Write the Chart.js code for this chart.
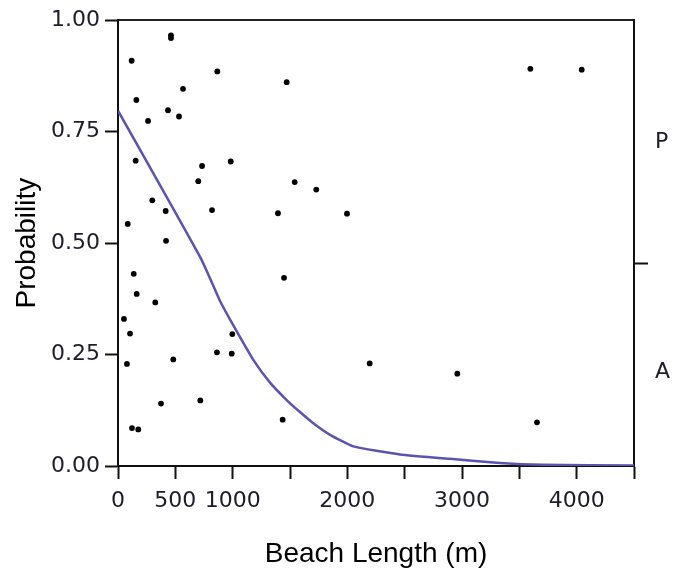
<!DOCTYPE html>
<html>
<head>
<meta charset="utf-8">
<script src="https://cdn.jsdelivr.net/npm/chart.js@4.4.0/dist/chart.umd.min.js"></script>
<style>
  html, body { margin: 0; padding: 0; background: #fff; }
</style>
</head>
<body>
<canvas id="myChart" width="684" height="573"></canvas>
<script>
// observed beaches: length (m) and probability value
const beachLength = [462, 462, 119, 866, 567, 160, 436, 532, 262, 154, 733, 983, 700, 299, 416, 820, 85, 419,
  137, 163, 325, 52, 105, 78, 482, 863, 992, 997, 375, 718, 122, 177,
  1471, 1541, 1729, 1395, 1997, 1448, 2195, 1436, 3596, 4044, 2959, 3654];
const presence = [0.966, 0.960, 0.909, 0.885, 0.846, 0.821, 0.798, 0.784, 0.774, 0.685, 0.673, 0.683, 0.639, 0.596, 0.572, 0.574, 0.543, 0.505,
  0.431, 0.386, 0.367, 0.330, 0.297, 0.229, 0.239, 0.255, 0.252, 0.296, 0.140, 0.147, 0.085, 0.082,
  0.861, 0.637, 0.620, 0.567, 0.566, 0.422, 0.230, 0.104, 0.891, 0.889, 0.207, 0.098];

// fitted curve
const fitLength = [0, 730, 890, 1000, 1180, 1326, 1471, 1587, 1703, 1850, 2052, 2459, 2895, 3331, 3700, 4500];
const fitProb = [0.797, 0.462, 0.370, 0.318, 0.238, 0.187, 0.148, 0.121, 0.096, 0.070, 0.044, 0.026, 0.016, 0.007, 0.003, 0.001];

const xTickLabels = [0, 500, 1000, 2000, 3000, 4000];
const sideLabels = ['A', '', 'P'];
const sideTicks = [0.21, 0.454, 0.727];

const scatterData = beachLength.map((x, i) => ({ x: x, y: presence[i] }));
const fitData = fitLength.map((x, i) => ({ x: x, y: fitProb[i] }));

const tickFont = { family: 'DejaVu Sans', size: 22 };
const titleFont = { family: 'Liberation Sans', size: 28 };
const labelColor = '#1c1c2a';

var ctx = document.getElementById('myChart').getContext('2d');
var myChart = new Chart(ctx, {
  data: {
    datasets: [
      {
        type: 'line',
        data: fitData,
        borderColor: '#5a54ae',
        borderWidth: 2.5,
        pointRadius: 0,
        tension: 0.15,
        order: 2
      },
      {
        type: 'scatter',
        data: scatterData,
        backgroundColor: '#000',
        borderWidth: 0,
        pointRadius: 2.9,
        order: 1
      }
    ]
  },
  options: {
    responsive: false,
    animation: false,
    devicePixelRatio: 1,
    layout: { padding: 0 },
    plugins: { legend: { display: false }, tooltip: { enabled: false } },
    scales: {
      x: {
        type: 'linear',
        position: 'bottom',
        min: 0,
        max: 4500,
        afterFit: s => { s.height = 107; },
        ticks: {
          stepSize: 500,
          autoSkip: false,
          maxRotation: 0,
          padding: 9,
          color: labelColor,
          font: tickFont,
          callback: v => xTickLabels.includes(v) ? String(v) : ''
        },
        grid: { drawOnChartArea: false, tickLength: 13, tickWidth: 2, tickColor: '#111' },
        border: { color: '#111', width: 2 },
        title: { display: true, text: 'Beach Length (m)', color: '#000', font: titleFont, padding: { top: 0, bottom: 2 } }
      },
      x2: {
        type: 'linear',
        position: 'top',
        min: 0,
        max: 4500,
        afterFit: s => { s.height = 19; },
        ticks: { display: false },
        grid: { display: false },
        border: { color: '#222', width: 2 }
      },
      y: {
        type: 'linear',
        position: 'left',
        min: 0,
        max: 1,
        afterFit: s => { s.width = 118; },
        ticks: {
          stepSize: 0.25,
          padding: 5,
          color: labelColor,
          font: tickFont,
          callback: v => v.toFixed(2)
        },
        grid: { drawOnChartArea: false, tickLength: 13, tickWidth: 2, tickColor: '#111' },
        border: { color: '#111', width: 2 },
        title: { display: true, text: 'Probability', color: '#000', font: titleFont, padding: { top: 10, bottom: 0 } }
      },
      y2: {
        type: 'linear',
        position: 'right',
        min: 0,
        max: 1,
        afterFit: s => { s.width = 50; },
        afterBuildTicks: s => { s.ticks = sideTicks.map(v => ({ value: v })); },
        ticks: {
          padding: 7,
          color: labelColor,
          font: { family: 'DejaVu Sans', size: 22 },
          callback: (v, i) => sideLabels[i]
        },
        grid: {
          drawOnChartArea: false,
          tickLength: 14,
          tickWidth: 2,
          tickColor: c => c.index === 1 ? '#111' : 'rgba(0,0,0,0)'
        },
        border: { color: '#111', width: 2 }
      }
    }
  }
});
</script>
</body>
</html>
